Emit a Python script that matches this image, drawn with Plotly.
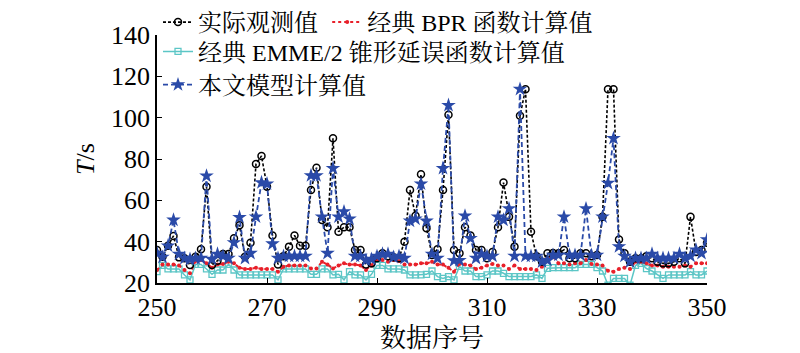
import plotly.graph_objects as go

x = list(range(250, 351))

observed = [36, 32.7, 38, 42.8, 32.4, 32, 28.7, 32.7, 36.3, 66.6,
            28.7, 30.8, 34, 34, 41.6, 48, 32.7, 39.5, 77.6, 81.5,
            66.6, 43, 29, 33, 37.6, 43, 38, 38, 65, 75.8,
            50.5, 47, 90, 44.8, 47, 47, 36, 36, 29, 29.5,
            32, 34.4, 33, 32.5, 32, 40, 65, 52.5, 72.6, 46.5,
            33.5, 36.3, 65, 101.4, 36, 34.4, 47, 43, 36, 36,
            32, 35, 47, 68.6, 52, 37.6, 100.9, 113.8, 44.8, 33,
            30.3, 34.4, 34.5, 34.4, 36, 32, 32, 34.4, 34.4, 33,
            33.5, 52, 113.8, 113.8, 41, 34.4, 30.3, 32, 32, 33,
            32, 30.3, 29.5, 29.5, 30.3, 32, 29.5, 52, 35, 36,
            39.5]

bpr = [26.3, 28.9, 28.9, 28.9, 28.5, 26.3, 24.7, 30.6, 31.1, 29.5,
       27.4, 28.9, 29.2, 30.3, 29.5, 27.4, 26.8, 26.8, 27.4, 26.8,
       26.8, 26.8, 25.5, 27.9, 28.5, 28.5, 28.5, 28.5, 27.0, 27.0,
       30.3, 28.9, 27.0, 28.5, 29.5, 28.9, 28.9, 28.5, 26.3, 28.5,
       31.1, 31.1, 30.3, 31.1, 30.6, 28.9, 28.9, 28.9, 29.5, 29.5,
       30.3, 28.9, 28.9, 27.4, 25.5, 29.2, 28.9, 28.5, 26.8, 27.4,
       28.5, 29.2, 28.5, 28.5, 26.8, 28.5, 26.8, 26.8, 26.8, 26.3,
       27.9, 31.9, 32.7, 29.5, 29.5, 28.9, 29.5, 29.5, 31.1, 29.2,
       28.9, 28.5, 25.9, 25.5, 26.8, 27.4, 26.8, 30.3, 30.3, 29.5,
       28.5, 28.5, 27.9, 27.9, 27.9, 27.9, 28.5, 27.9, 29.5, 29.5,
       29.5]

emme = [25.5, 28.5, 26.8, 26.8, 26.8, 23.9, 21.5, 29.0, 29.0, 26.8,
        24.2, 26.3, 26.3, 29.0, 26.3, 23.9, 23.9, 23.9, 23.9, 23.9,
        23.9, 23.9, 21.5, 26.8, 26.8, 26.8, 26.8, 26.8, 24.2, 24.2,
        26.8, 26.8, 23.9, 24.2, 21.5, 25.5, 23.9, 23.9, 21.5, 24.2,
        28.5, 28.5, 26.8, 26.8, 26.8, 26.3, 23.9, 23.9, 23.9, 24.2,
        25.8, 23.1, 22.2, 23.1, 21.5, 28.0, 25.8, 25.8, 23.1, 23.1,
        23.9, 25.8, 25.8, 24.7, 23.1, 23.1, 23.1, 23.1, 23.1, 23.9,
        22.2, 27.1, 27.4, 27.4, 27.4, 27.4, 27.4, 29.0, 29.0, 29.0,
        27.4, 25.8, 19.0, 22.2, 22.2, 22.2, 19.0, 28.5, 29.5, 27.0,
        25.8, 23.9, 22.2, 23.9, 23.9, 23.9, 23.9, 25.5, 23.9, 23.9,
        25.8]

model = [34.4, 32.5, 38, 50.5, 34, 32, 31.5, 32, 32, 71.8,
         31.5, 34, 33, 32, 39.5, 51.8, 32, 34.4, 52, 68.6,
         68, 39, 32, 33, 33, 33, 33, 33, 72, 72,
         52, 34.4, 75.5, 52, 54.5, 51, 33, 33, 31, 31.5,
         33, 34, 34, 32.5, 33, 32, 50, 51, 68, 50,
         34, 32, 75.5, 106, 30.8, 31, 52.5, 41.6, 32, 34,
         33, 33, 52, 50.5, 56, 33, 113.8, 33, 33, 33,
         30.3, 31, 33.5, 33.5, 52, 33.5, 33.5, 33.5, 56, 33.5,
         33.5, 52, 68.3, 90, 37.6, 33, 30.3, 32, 32, 32,
         34, 32, 32, 32, 32, 34, 32, 33, 36, 34.4,
         41]

names = ["实际观测值", "经典 BPR 函数计算值", "经典 EMME/2 锥形延误函数计算值", "本文模型计算值"]
x_ticks = [250, 270, 290, 310, 330, 350]
y_ticks = [20, 40, 60, 80, 100, 120, 140]
y_title = "<i>T</i>/s"
x_title = "数据序号"

SERIF = "Liberation Serif, 'Times New Roman', 'Noto Serif CJK SC', 'Noto Sans CJK SC', serif"
BLUE = "#2a4aa8"
CYAN = "#5cc6c6"
RED = "#e8202a"

fig = go.Figure()
fig.add_trace(go.Scatter(
    x=x, y=emme, name=names[2], mode="lines+markers", legend="legend4",
    line=dict(color=CYAN, width=1.5),
    marker=dict(symbol="square-open", size=6, color=CYAN, line=dict(width=1.3)),
))
fig.add_trace(go.Scatter(
    x=x, y=bpr, name=names[1], mode="lines+markers", legend="legend3",
    line=dict(color=RED, width=2, dash="dot"),
    marker=dict(symbol="circle", size=4, color=RED),
))
fig.add_trace(go.Scatter(
    x=x, y=observed, name=names[0], mode="lines+markers", legend="legend2",
    line=dict(color="black", width=1.6, dash="3px,2px"),
    marker=dict(symbol="circle-open", size=7, color="black", line=dict(width=1.5)),
))
fig.add_trace(go.Scatter(
    x=x, y=model, name=names[3], mode="lines+markers", legend="legend5",
    line=dict(color=BLUE, width=1.8, dash="5px,3px"),
    marker=dict(symbol="star", size=11, color=BLUE),
))

leg_common = dict(font=dict(family=SERIF, size=24, color="black"),
                  bgcolor="rgba(255,255,255,0)", itemwidth=30,
                  xref="container", yref="container",
                  xanchor="left", yanchor="top", tracegroupgap=0)

fig.update_layout(
    width=800, height=353,
    margin=dict(l=157, r=93, t=35, b=70, autoexpand=False),
    paper_bgcolor="white", plot_bgcolor="white",
    font=dict(family=SERIF, size=26, color="black"),
    showlegend=True,
    legend=dict(visible=False),
    legend2=dict(x=0.1975, y=1.0, **leg_common),
    legend3=dict(x=0.409, y=1.0, **leg_common),
    legend4=dict(x=0.1975, y=0.917, **leg_common),
    legend5=dict(x=0.1975, y=0.823, **leg_common),
    xaxis=dict(
        range=[250, 350], tickvals=x_ticks, ticktext=[str(v) for v in x_ticks],
        showline=True, linecolor="black", linewidth=1.5, mirror=False,
        ticks="inside", ticklen=5, tickcolor="black", tickwidth=1.2,
        showgrid=False, zeroline=False,
        tickfont=dict(family=SERIF, size=26),
        title=dict(text=x_title, font=dict(family=SERIF, size=26), standoff=8),
    ),
    yaxis=dict(
        range=[20, 140], tickvals=y_ticks, ticktext=[str(v) for v in y_ticks],
        showline=True, linecolor="black", linewidth=1.5, mirror=False,
        ticks="inside", ticklen=5, tickcolor="black", tickwidth=1.2,
        showgrid=False, zeroline=False,
        tickfont=dict(family=SERIF, size=26),
    ),
    annotations=[dict(
        text=y_title, xref="paper", yref="paper", x=-0.131, y=0.5,
        xanchor="center", yanchor="middle", textangle=-90, showarrow=False,
        font=dict(family=SERIF, size=26, color="black"),
    )],
)

fig.write_html("out.html")
